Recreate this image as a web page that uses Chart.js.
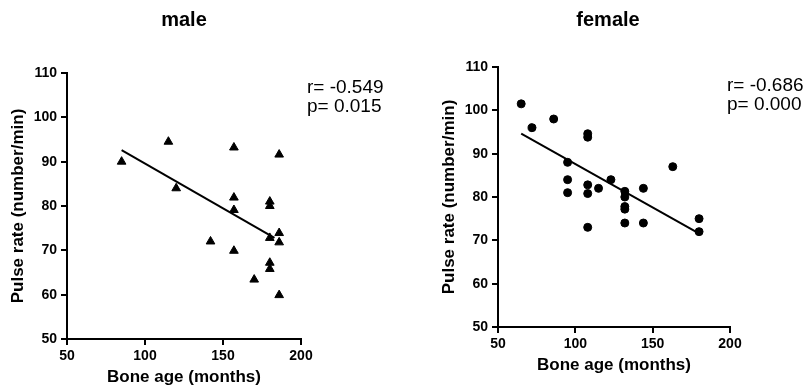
<!DOCTYPE html>
<html>
<head>
<meta charset="utf-8">
<script src="https://cdn.jsdelivr.net/npm/chart.js@4.4.1/dist/chart.umd.min.js"></script>
<style>
  body { margin: 0; background: #fff; }
  #wrap { position: relative; width: 810px; height: 388px; }
  .panel { position: absolute; top: 0; width: 405px; height: 388px; }
</style>
</head>
<body>
<div id="wrap">
  <div class="panel" style="left:0"><canvas id="maleChart"></canvas></div>
  <div class="panel" style="left:405px"><canvas id="femaleChart"></canvas></div>
</div>
<script>
// Male: bone age (months) vs pulse rate
const maleAge   = [85, 115, 120, 142, 157, 157, 157, 157, 170, 180, 180, 180, 180, 180, 186, 186, 186, 186];
const malePulse = [90, 94.5, 84, 72, 93.2, 81.9, 79.1, 69.9, 63.4, 81, 80, 72.8, 67.2, 65.8, 91.6, 73.9, 71.8, 59.9];
const maleFitAge   = [85, 183];
const maleFitPulse = [92.6, 72.8];

// Female
const femaleAge   = [65, 72, 86, 95, 95, 95, 108, 108, 108, 108, 108, 115, 123, 132, 132, 132, 132, 132, 144, 144, 163, 180, 180];
const femalePulse = [101.5, 96, 98, 88, 84, 81, 94.6, 93.8, 82.8, 80.8, 73, 82, 84, 81.3, 80, 77.8, 77.2, 74, 82, 74, 87, 75, 72];
const femaleFitAge   = [65, 179];
const femaleFitPulse = [94.6, 71.8];

const xTicks = [50, 100, 150, 200];
const yTicks = [50, 60, 70, 80, 90, 100, 110];

const toPoints = (xs, ys) => xs.map((x, i) => ({ x: x, y: ys[i] }));
const FONT = 'Liberation Sans, Arial, sans-serif';

// draws panel heading and the r / p annotation
function labelPlugin(title, titleX, rText, pText, textX, rY, pY) {
    return {
        id: 'labels',
        afterDraw(chart) {
            const ctx = chart.ctx;
            ctx.save();
            ctx.fillStyle = '#000';
            ctx.textBaseline = 'middle';
            ctx.textAlign = 'center';
            ctx.font = 'bold 20px ' + FONT;
            ctx.fillText(title, titleX, 20);
            ctx.textAlign = 'left';
            ctx.font = '19px ' + FONT;
            ctx.fillText(rText, textX, rY);
            ctx.fillText(pText, textX, pY);
            ctx.restore();
        }
    };
}

function makeChart(id, pts, fit, style, radius, padding, plugin) {
    const ctx = document.getElementById(id).getContext('2d');
    return new Chart(ctx, {
        type: 'scatter',
        data: {
            datasets: [{
                data: pts,
                pointStyle: style,
                pointRadius: radius,
                pointBackgroundColor: '#000',
                pointBorderColor: '#000',
                pointBorderWidth: 1
            }, {
                data: fit,
                showLine: true,
                borderColor: '#000',
                borderWidth: 2,
                pointRadius: 0
            }]
        },
        options: {
            responsive: true,
            maintainAspectRatio: false,
            animation: false,
            layout: { padding: padding },
            plugins: { legend: { display: false }, tooltip: { enabled: false } },
            scales: {
                x: {
                    type: 'linear',
                    min: 50, max: 200,
                    afterBuildTicks: s => { s.ticks = xTicks.map(v => ({ value: v })); },
                    afterFit: s => { s.height = 49; },
                    border: { color: '#000', width: 2 },
                    grid: { drawOnChartArea: false, color: '#000', lineWidth: 2, tickLength: 6 },
                    ticks: { color: '#000', padding: 3, font: { family: FONT, size: 14, weight: 'bold' } },
                    title: { display: true, text: 'Bone age (months)', color: '#000', padding: 0,
                             font: { family: FONT, size: 17, weight: 'bold' } }
                },
                y: {
                    type: 'linear',
                    min: 50, max: 110,
                    afterBuildTicks: s => { s.ticks = yTicks.map(v => ({ value: v })); },
                    afterFit: s => { s.width = 67; },
                    border: { color: '#000', width: 2 },
                    grid: { drawOnChartArea: false, color: '#000', lineWidth: 2, tickLength: 6 },
                    ticks: { color: '#000', padding: 4, font: { family: FONT, size: 14, weight: 'bold' } },
                    title: { display: true, text: 'Pulse rate (number/min)', color: '#000', padding: { top: 8, bottom: 0 },
                             font: { family: FONT, size: 17, weight: 'bold' } }
                }
            }
        },
        plugins: [plugin]
    });
}

makeChart('maleChart',
    toPoints(maleAge, malePulse),
    toPoints(maleFitAge, maleFitPulse),
    'triangle', 5,
    { left: 0, top: 73, right: 104, bottom: 0 },
    labelPlugin('male', 184, 'r= -0.549', 'p= 0.015', 307, 88, 107));

makeChart('femaleChart',
    toPoints(femaleAge, femalePulse),
    toPoints(femaleFitAge, femaleFitPulse),
    'circle', 4,
    { left: 26, top: 67, right: 80, bottom: 12 },
    labelPlugin('female', 203, 'r= -0.686', 'p= 0.000', 322, 86, 105));
</script>
</body>
</html>
